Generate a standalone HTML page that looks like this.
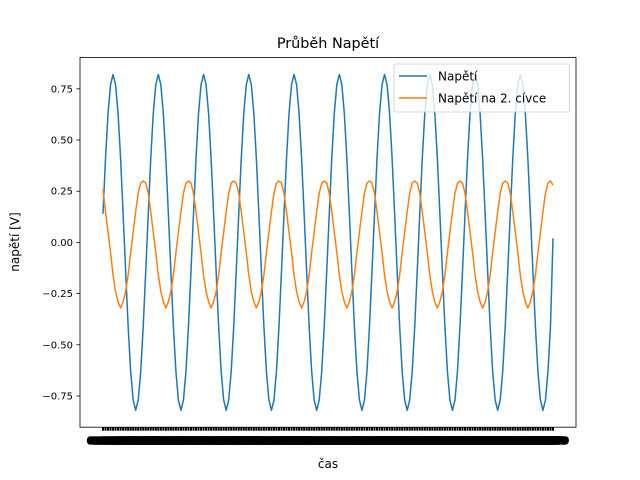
<!DOCTYPE html>
<html><head><meta charset="utf-8">
<style>
html,body{margin:0;padding:0;background:#fff;}
svg{display:block;font-family:"DejaVu Sans","Liberation Sans",sans-serif;}
</style></head>
<body>
<svg id="chart" width="640" height="480" viewBox="0 0 640 480" xmlns="http://www.w3.org/2000/svg">
<rect width="640" height="480" fill="#fff"/>
<text x="328" y="48" font-size="14.4" text-anchor="middle">Průběh Napětí</text>
<text x="328" y="468" font-size="12" text-anchor="middle">čas</text>
<text transform="translate(19,242) rotate(-90)" font-size="12" text-anchor="middle">napětí [V]</text>
<g id="yaxis"></g>
<g id="xaxis"></g>
<g id="series"></g>
<rect x="80" y="57.6" width="496" height="369.6" fill="none" stroke="#000" stroke-width="0.8"/>
<g>
<rect x="394" y="64" width="175.5" height="48" rx="2" fill="#fff" fill-opacity="0.8" stroke="#ccc" stroke-width="0.8"/>
<line x1="399" y1="76" x2="427" y2="76" stroke="#1f77b4" stroke-width="1.5"/>
<text x="438" y="80.5" font-size="12">Napětí</text>
<line x1="399" y1="98" x2="427" y2="98" stroke="#ff7f0e" stroke-width="1.5"/>
<text x="438" y="102.5" font-size="12">Napětí na 2. cívce</text>
</g>
</svg>
<script>
const yTicks = [-0.75,-0.5,-0.25,0,0.25,0.5,0.75];
const yTickLabels = ["−0.75","−0.50","−0.25","0.00","0.25","0.50","0.75"];
const napeti = [
0.14,0.41,0.63,0.77,0.82,0.77,0.63,0.41,0.14,-0.14,-0.41,-0.63,-0.77,-0.82,-0.77,-0.63,-0.41,-0.14,
0.14,0.41,0.63,0.77,0.82,0.77,0.63,0.41,0.14,-0.14,-0.41,-0.63,-0.77,-0.82,-0.77,-0.63,-0.41,-0.14,
0.14,0.41,0.63,0.77,0.82,0.77,0.63,0.41,0.14,-0.14,-0.41,-0.63,-0.77,-0.82,-0.77,-0.63,-0.41,-0.14,
0.14,0.41,0.63,0.77,0.82,0.77,0.63,0.41,0.14,-0.14,-0.41,-0.63,-0.77,-0.82,-0.77,-0.63,-0.41,-0.14,
0.14,0.41,0.63,0.77,0.82,0.77,0.63,0.41,0.14,-0.14,-0.41,-0.63,-0.77,-0.82,-0.77,-0.63,-0.41,-0.14,
0.14,0.41,0.63,0.77,0.82,0.77,0.63,0.41,0.14,-0.14,-0.41,-0.63,-0.77,-0.82,-0.77,-0.63,-0.41,-0.14,
0.14,0.41,0.63,0.77,0.82,0.77,0.63,0.41,0.14,-0.14,-0.41,-0.63,-0.77,-0.82,-0.77,-0.63,-0.41,-0.14,
0.14,0.41,0.63,0.77,0.82,0.77,0.63,0.41,0.14,-0.14,-0.41,-0.63,-0.77,-0.82,-0.77,-0.63,-0.41,-0.14,
0.14,0.41,0.63,0.77,0.82,0.77,0.63,0.41,0.14,-0.14,-0.41,-0.63,-0.77,-0.82,-0.77,-0.63,-0.41,-0.14,
0.14,0.41,0.63,0.77,0.82,0.77,0.63,0.41,0.14,-0.14,-0.41,-0.63,-0.77,-0.82,-0.77,-0.63,-0.41,0.02
];
const napetiCivka = [
0.26,0.15,0.05,-0.05,-0.16,-0.24,-0.29,-0.32,-0.29,-0.24,-0.16,-0.05,0.05,0.15,0.24,0.29,0.30,0.29,
0.24,0.15,0.05,-0.05,-0.16,-0.24,-0.29,-0.32,-0.29,-0.24,-0.16,-0.05,0.05,0.15,0.24,0.29,0.30,0.29,
0.24,0.15,0.05,-0.05,-0.16,-0.24,-0.29,-0.32,-0.29,-0.24,-0.16,-0.05,0.05,0.15,0.24,0.29,0.30,0.29,
0.24,0.15,0.05,-0.05,-0.16,-0.24,-0.29,-0.32,-0.29,-0.24,-0.16,-0.05,0.05,0.15,0.24,0.29,0.30,0.29,
0.24,0.15,0.05,-0.05,-0.16,-0.24,-0.29,-0.32,-0.29,-0.24,-0.16,-0.05,0.05,0.15,0.24,0.29,0.30,0.29,
0.24,0.15,0.05,-0.05,-0.16,-0.24,-0.29,-0.32,-0.29,-0.24,-0.16,-0.05,0.05,0.15,0.24,0.29,0.30,0.29,
0.24,0.15,0.05,-0.05,-0.16,-0.24,-0.29,-0.32,-0.29,-0.24,-0.16,-0.05,0.05,0.15,0.24,0.29,0.30,0.29,
0.24,0.15,0.05,-0.05,-0.16,-0.24,-0.29,-0.32,-0.29,-0.24,-0.16,-0.05,0.05,0.15,0.24,0.29,0.30,0.29,
0.24,0.15,0.05,-0.05,-0.16,-0.24,-0.29,-0.32,-0.29,-0.24,-0.16,-0.05,0.05,0.15,0.24,0.29,0.30,0.29,
0.24,0.15,0.05,-0.05,-0.16,-0.24,-0.29,-0.32,-0.29,-0.24,-0.16,-0.05,0.05,0.15,0.24,0.29,0.30,0.28
];
const categories = [];
for (let i = 0; i < napeti.length; i++) categories.push((i/1000).toFixed(3));

const NS = "http://www.w3.org/2000/svg";
const plotL = 80, plotR = 576, plotT = 57.6, plotB = 427.2;
const yMin = -0.9025, yMax = 0.9025;
function yScale(v){ return plotB - (v - yMin) / (yMax - yMin) * (plotB - plotT); }
function xScale(i){
  const n = categories.length;
  return 103 + i * (450 / (n - 1));
}
function mk(tag, attrs, parent){
  const el = document.createElementNS(NS, tag);
  for (const k in attrs) el.setAttribute(k, attrs[k]);
  parent.appendChild(el);
  return el;
}
const ya = document.getElementById('yaxis');
yTicks.forEach((v, i) => {
  const y = yScale(v);
  const t = mk('line', {x1: plotL-3.5, x2: plotL, y1: y, y2: y, stroke: '#000', 'stroke-width': 0.8}, ya);
  
  
  const l = mk('text', {x: plotL-7, y: y+3.5, 'font-size': 10, 'text-anchor': 'end'}, ya);
  l.textContent = yTickLabels[i];
  
  
});
const xa = document.getElementById('xaxis');
categories.forEach((c, i) => {
  const x = xScale(i);
  const t = mk('line', {x1: x, x2: x, y1: plotB, y2: plotB+3.5, stroke: '#000', 'stroke-width': 2}, xa);
  
  
  const l = mk('text', {x: x, y: plotB+17, 'font-size': 10, 'font-weight': 'bold', 'text-anchor': 'middle', stroke: '#000', 'stroke-width': 1.6}, xa);
  l.textContent = c;
  
  
});
const sg = document.getElementById('series');
function drawLine(vals, color, name){
  const d = vals.map((v, i) => (i ? 'L' : 'M') + xScale(i).toFixed(2) + ' ' + yScale(v).toFixed(2)).join(' ');
  const p = mk('path', {d: d, fill: 'none', stroke: color, 'stroke-width': 1.5, 'stroke-linejoin': 'round'}, sg);
  
  
}
drawLine(napeti, '#1f77b4', 'line-napeti');
drawLine(napetiCivka, '#ff7f0e', 'line-napeti-civka');
</script>
</body></html>
